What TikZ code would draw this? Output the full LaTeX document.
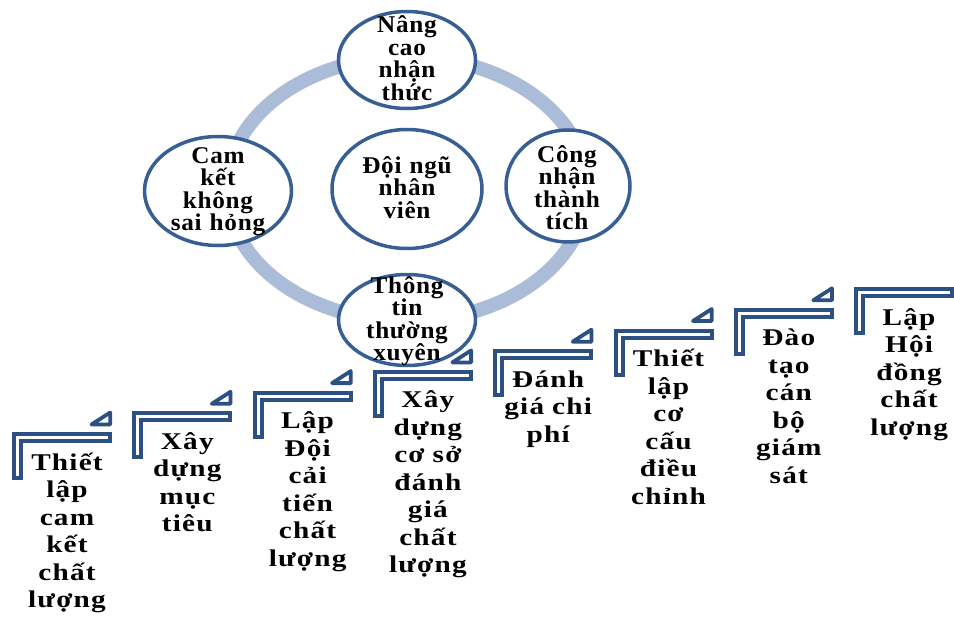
\documentclass[tikz,border=0pt]{standalone}
\usepackage{fontspec}
\setmainfont{Liberation Serif}
\newfontfamily\circfont{Liberation Serif}[FakeStretch=1.05,LetterSpace=3]
\newfontfamily\stepfont{Liberation Serif}[FakeStretch=1.22,LetterSpace=5]
\usetikzlibrary{shapes.geometric}
\definecolor{ringblue}{RGB}{170,188,215}
\definecolor{darkblue}{RGB}{44,80,130}
\definecolor{lineblue}{RGB}{55,95,148}
\tikzset{
  bub/.style={ellipse, draw=lineblue, line width=3.5pt, fill=white, inner sep=0pt},
  bubtxt/.style={text width=150pt, align=center, inner sep=0pt, anchor=base,
    font=\circfont\bfseries\fontsize{24}{22.5}\selectfont},
  steptxt/.style={text width=120pt, align=center, inner sep=0pt, anchor=base,
    font=\stepfont\bfseries\fontsize{24}{27.5}\selectfont},
  lbar/.style={draw=darkblue, line width=4pt, fill=white, miter limit=10},
  ltri/.style={draw=darkblue, line width=3.8pt, fill=white, line join=round},
}
\begin{document}
\begin{tikzpicture}[x=1pt,y=-1pt]
\useasboundingbox (0,0) rectangle (954,618);
% ring
\draw[ringblue, line width=14pt] (407,189) ellipse [x radius=180pt, y radius=132pt];
% bubbles
\node[bub, minimum width=137pt, minimum height=97pt] (top) at (407,60) {};
\node[bub, minimum width=150pt, minimum height=119pt] (ctr) at (407,189) {};
\node[bub, minimum width=147pt, minimum height=109pt] (lft) at (218,191) {};
\node[bub, minimum width=124pt, minimum height=112pt] (rgt) at (568,186) {};
\node[bub, minimum width=137pt, minimum height=91pt] (bot) at (407,320) {};
\node[bubtxt] (ttop) at (407,33) {Nâng\\cao\\nhận\\thức};
\node[bubtxt] (tctr) at (407,173) {Đội ngũ\\nhân\\viên};
\node[bubtxt] (tlft) at (218,163) {Cam\\kết\\không\\sai hỏng};
\node[bubtxt] (trgt) at (567,162) {Công\\nhận\\thành\\tích};
\node[bubtxt] (tbot) at (407,293) {Thông\\tin\\thường\\xuyên};
% steps
\foreach \i/\txt/\tri in {
  1/{Thiết\\lập\\cam\\kết\\chất\\lượng}/1,
  2/{Xây\\dựng\\mục\\tiêu}/1,
  3/{Lập\\Đội\\cải\\tiến\\chất\\lượng}/1,
  4/{Xây\\dựng\\cơ sở\\đánh\\giá\\chất\\lượng}/1,
  5/{Đánh\\giá chi\\phí}/1,
  6/{Thiết\\lập\\cơ\\cấu\\điều\\chỉnh}/1,
  7/{Đào\\tạo\\cán\\bộ\\giám\\sát}/1,
  8/{Lập\\Hội\\đồng\\chất\\lượng}/0} {
  \pgfmathsetmacro\lx{12+120.3*(\i-1)}
  \pgfmathsetmacro\ty{432-20.7*(\i-1)}
  \begin{scope}[shift={(\lx,\ty)}]
    \draw[lbar] (2,2) -- (98,2) -- (98,9) -- (9,9) -- (9,46) -- (2,46) -- cycle;
    \ifnum\tri=1
      \draw[ltri] (79.5,-7.5) -- (98.2,-7.5) -- (98.2,-19.5) -- cycle;
    \fi
    \node[steptxt] (s\i) at (55,38) {\txt};
  \end{scope}
}
\end{tikzpicture}
\end{document}
